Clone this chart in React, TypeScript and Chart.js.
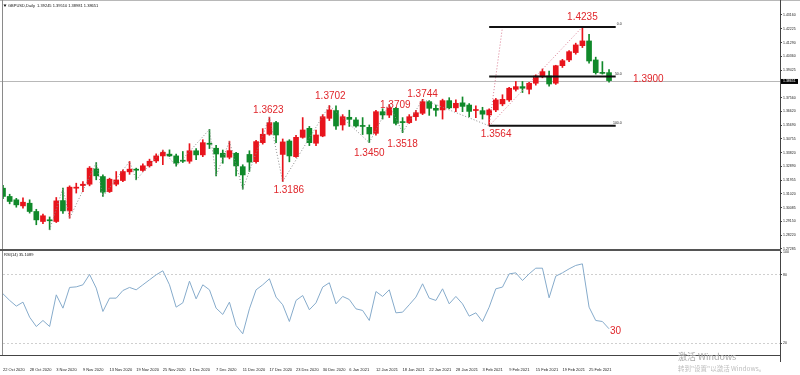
import React, { useEffect, useRef } from 'react';
import { Chart, registerables } from 'chart.js';

Chart.register(...registerables);

// ---------------- data ----------------
const dates = ['22 Oct 2020','23 Oct 2020','26 Oct 2020','27 Oct 2020','28 Oct 2020','29 Oct 2020','30 Oct 2020',
  '2 Nov 2020','3 Nov 2020','4 Nov 2020','5 Nov 2020','6 Nov 2020','9 Nov 2020','10 Nov 2020','11 Nov 2020','12 Nov 2020','13 Nov 2020',
  '16 Nov 2020','17 Nov 2020','18 Nov 2020','19 Nov 2020','20 Nov 2020','23 Nov 2020','24 Nov 2020','25 Nov 2020','26 Nov 2020','27 Nov 2020','30 Nov 2020',
  '1 Dec 2020','2 Dec 2020','3 Dec 2020','4 Dec 2020','7 Dec 2020','8 Dec 2020','9 Dec 2020','10 Dec 2020','11 Dec 2020','14 Dec 2020','15 Dec 2020',
  '16 Dec 2020','17 Dec 2020','18 Dec 2020','21 Dec 2020','22 Dec 2020','23 Dec 2020','24 Dec 2020','28 Dec 2020','29 Dec 2020','30 Dec 2020','31 Dec 2020',
  '4 Jan 2021','5 Jan 2021','6 Jan 2021','7 Jan 2021','8 Jan 2021','11 Jan 2021','12 Jan 2021','13 Jan 2021','14 Jan 2021','15 Jan 2021',
  '18 Jan 2021','19 Jan 2021','20 Jan 2021','21 Jan 2021','22 Jan 2021','25 Jan 2021','26 Jan 2021','27 Jan 2021','28 Jan 2021','29 Jan 2021',
  '1 Feb 2021','2 Feb 2021','3 Feb 2021','4 Feb 2021','5 Feb 2021','8 Feb 2021','9 Feb 2021','10 Feb 2021','11 Feb 2021','12 Feb 2021',
  '15 Feb 2021','16 Feb 2021','17 Feb 2021','18 Feb 2021','19 Feb 2021','22 Feb 2021','23 Feb 2021','24 Feb 2021','25 Feb 2021','26 Feb 2021',
  '1 Mar 2021','2 Mar 2021'];

const opens = [1.3141,1.3085,1.3062,1.3021,1.3039,1.2983,1.2915,1.2924,1.2915,1.3057,1.2987,1.3141,1.3159,1.3168,1.3272,1.3220,1.3118,
  1.3168,1.3193,1.3252,1.3270,1.3261,1.3293,1.3326,1.3360,1.3372,1.3360,1.3329,1.3324,1.3395,1.3367,1.3446,1.3412,1.3378,1.3351,1.3378,
  1.3287,1.3370,1.3321,1.3450,1.3507,1.3586,1.3370,1.3461,1.3355,1.3486,1.3547,1.3446,1.3495,1.3615,1.3668,1.3570,1.3622,1.3604,1.3565,
  1.3554,1.3513,1.3660,1.3637,1.3683,1.3592,1.3586,1.3626,1.3649,1.3728,1.3683,1.3672,1.3735,1.3686,1.3720,1.3705,1.3668,1.3667,1.3638,
  1.3672,1.3713,1.3740,1.3812,1.3830,1.3812,1.3853,1.3902,1.3902,1.3853,1.3972,1.4011,1.4061,1.4108,1.4140,1.4011,1.3925,1.3925];
const highs = [1.3160,1.3100,1.3072,1.3075,1.3062,1.2998,1.2965,1.2946,1.3078,1.3141,1.3157,1.3175,1.3186,1.3288,1.3315,1.3232,1.3209,
  1.3254,1.3265,1.3322,1.3277,1.3306,1.3338,1.3374,1.3400,1.3401,1.3372,1.3390,1.3443,1.3410,1.3470,1.3540,1.3432,1.3400,1.3460,1.3385,
  1.3300,1.3395,1.3465,1.3545,1.3623,1.3595,1.3475,1.3470,1.3500,1.3620,1.3560,1.3535,1.3640,1.3702,1.3700,1.3640,1.3670,1.3620,1.3620,
  1.3570,1.3670,1.3680,1.3709,1.3690,1.3620,1.3640,1.3670,1.3744,1.3735,1.3705,1.3745,1.3755,1.3740,1.3760,1.3715,1.3700,1.3690,1.3680,
  1.3750,1.3775,1.3825,1.3865,1.3865,1.3860,1.3910,1.3950,1.3935,1.3975,1.4015,1.4075,1.4125,1.4235,1.4185,1.4030,1.4000,1.3945];
const lows = [1.3070,1.3035,1.3012,1.3005,1.2972,1.2893,1.2900,1.2859,1.2908,1.2970,1.2937,1.3108,1.3118,1.3157,1.3198,1.3085,1.3112,
  1.3157,1.3186,1.3235,1.3198,1.3254,1.3284,1.3315,1.3300,1.3356,1.3290,1.3315,1.3310,1.3335,1.3355,1.3410,1.3225,1.3310,1.3340,1.3225,
  1.3134,1.3255,1.3310,1.3440,1.3500,1.3450,1.3186,1.3320,1.3350,1.3480,1.3430,1.3430,1.3490,1.3600,1.3540,1.3535,1.3560,1.3555,1.3505,
  1.3450,1.3500,1.3610,1.3620,1.3570,1.3518,1.3580,1.3600,1.3640,1.3635,1.3630,1.3610,1.3680,1.3660,1.3660,1.3625,1.3620,1.3610,1.3564,
  1.3660,1.3700,1.3730,1.3800,1.3790,1.3780,1.3840,1.3890,1.3833,1.3845,1.3960,1.4000,1.4050,1.4095,1.3990,1.3915,1.3915,1.3860];
const closes = [1.3085,1.3051,1.3028,1.3046,1.2983,1.2926,1.2954,1.2920,1.3055,1.2987,1.3148,1.3148,1.3168,1.3277,1.3225,1.3114,1.3202,
  1.3197,1.3254,1.3270,1.3263,1.3293,1.3324,1.3360,1.3385,1.3360,1.3311,1.3324,1.3395,1.3367,1.3450,1.3439,1.3373,1.3351,1.3396,1.3292,
  1.3231,1.3318,1.3457,1.3507,1.3586,1.3502,1.3455,1.3360,1.3486,1.3536,1.3450,1.3502,1.3626,1.3672,1.3563,1.3626,1.3608,1.3563,1.3560,
  1.3509,1.3660,1.3638,1.3683,1.3581,1.3586,1.3626,1.3653,1.3728,1.3683,1.3670,1.3735,1.3686,1.3717,1.3696,1.3662,1.3673,1.3643,1.3672,
  1.3740,1.3744,1.3819,1.3830,1.3819,1.3853,1.3902,1.3932,1.3848,1.3972,1.4006,1.4067,1.4113,1.4140,1.4004,1.3925,1.3920,1.3871];

const rsiValues = [63.3,57.5,52.5,56.0,42.8,34.6,39.9,34.6,62.4,50.7,68.9,69.4,71.2,80.3,68.3,47.8,59.5,59.5,66.2,68.9,66.8,71.2,
  75.6,80.0,83.5,71.2,51.6,55.4,74.4,58.9,71.2,66.8,50.7,45.2,56.0,35.5,28.2,50.1,66.8,71.2,76.5,60.4,53.7,39.0,57.5,
  61.8,49.3,55.4,69.2,73.0,54.5,61.0,58.3,50.1,48.7,39.9,65.3,61.0,66.8,46.6,47.2,53.7,60.4,72.1,59.5,57.5,67.7,54.5,61.0,54.5,
  43.7,46.6,39.0,51.6,67.7,69.2,80.8,81.7,75.0,80.8,85.8,85.8,59.8,78.8,81.7,85.2,88.2,89.6,51.6,39.9,39.0,32.6];

const priceTicks = [1.43160,1.42225,1.41290,1.40360,1.39425,1.37560,1.36620,1.35690,1.34755,1.33820,1.32890,1.31955,1.31020,1.30085,1.29150,1.28220,1.27285];
const xTickLabels = ['22 Oct 2020','28 Oct 2020','3 Nov 2020','9 Nov 2020','13 Nov 2020','19 Nov 2020','25 Nov 2020','1 Dec 2020',
  '7 Dec 2020','11 Dec 2020','17 Dec 2020','23 Dec 2020','30 Dec 2020','6 Jan 2021','12 Jan 2021','18 Jan 2021','22 Jan 2021',
  '28 Jan 2021','3 Feb 2021','9 Feb 2021','15 Feb 2021','19 Feb 2021','25 Feb 2021'];
const rsiTicks = [100, 80, 20];

// zigzag swing points (bar index, price)
const zigzagIdx = [7,9,10,14,15,19,20,24,26,31,32,34,36,40,42,49,55,58,60,63,73];
const zigzagVal = [1.2859,1.3141,1.2937,1.3315,1.3085,1.3322,1.3198,1.3400,1.3290,1.3540,1.3225,1.3460,1.3134,1.3623,1.3186,1.3702,1.3450,1.3709,1.3518,1.3744,1.3564];
// fibonacci tool
const fibIdx = [73, 92];
const fibLevels = [1.4235, 1.38995, 1.3564];
const fibLevelLabels = ['0.0', '50.0', '100.0'];
const fibTrendIdx = [73, 87];
const fibTrendVal = [1.3564, 1.4235];
const fibAnchorIdx = [73, 75];
const fibAnchorVal = [1.3564, 1.4235];

// swing annotations
const swingLabels = ['1.4235','1.3900','1.3564','1.3623','1.3186','1.3702','1.3450','1.3709','1.3518','1.3744'];
const swingIdx = [87, 91, 73, 40, 42, 49, 55, 58, 60, 63];
const rsiNote = '30';
const rsiNoteIdx = 91;

const currentPrice = 1.38651;
const titleText = 'GBPUSD,Daily  1.39245 1.39510 1.38981 1.38651';
const rsiTitle = 'RSI(14) 35.1089';

// ---------------- styles ----------------
const UP = '#e8141c';
const DOWN = '#10892a';
const NOTE = '#e0262b';
const FONT = '"Liberation Sans", Arial, sans-serif';
const X_MIN = 0;
const X_MAX = 116.67;
const AXIS_W = 20;
// pixel offsets for swing labels: [dx, dy, align]
const NOTE_OFFSETS: any[] = [
  [0, -9.5, 'center'], [24, 2.5, 'left'], [7, 8, 'center'], [-1, -6.5, 'center'], [6, 9, 'center'],
  [1, -9.5, 'center'], [0, 11, 'center'], [6, 0.5, 'center'], [0, 12, 'center'], [0, -5, 'center'],
];

export default function App() {
  const mainRef = useRef<HTMLCanvasElement>(null);
  const rsiRef = useRef<HTMLCanvasElement>(null);

  useEffect(() => {
    const colors = closes.map((c, i) => (c >= opens[i] ? UP : DOWN));

    const mainOverlay = {
      id: 'mainOverlay',
      beforeDatasetsDraw(chart: any) {
        const { ctx, chartArea, scales } = chart;
        const py = Math.round(scales.y.getPixelForValue(currentPrice)) + 0.5;
        ctx.save();
        ctx.strokeStyle = '#b8b8b8';
        ctx.lineWidth = 1;
        ctx.beginPath();
        ctx.moveTo(0, py);
        ctx.lineTo(chartArea.right, py);
        ctx.stroke();
        ctx.restore();
      },
      afterDraw(chart: any) {
        const { ctx, chartArea, scales } = chart;
        const x = scales.x, y = scales.y;
        ctx.save();
        // swing notes
        ctx.font = `10px ${FONT}`;
        ctx.fillStyle = NOTE;
        ctx.textBaseline = 'middle';
        swingLabels.forEach((t, k) => {
          const [dx, dy, align] = NOTE_OFFSETS[k];
          ctx.textAlign = align;
          ctx.fillText(t, x.getPixelForValue(swingIdx[k]) + dx, y.getPixelForValue(parseFloat(t)) + dy);
        });
        // fib labels
        ctx.font = `3.5px ${FONT}`;
        ctx.fillStyle = '#222';
        ctx.textAlign = 'right';
        ctx.textBaseline = 'bottom';
        fibLevels.forEach((v, k) => {
          ctx.fillText(fibLevelLabels[k], x.getPixelForValue(fibIdx[1]) + 6, y.getPixelForValue(v) - 1);
        });
        // current price tag
        const py = y.getPixelForValue(currentPrice);
        ctx.fillStyle = '#000';
        ctx.fillRect(chartArea.right + 1, py - 2.5, 17, 5);
        ctx.fillStyle = '#fff';
        ctx.textAlign = 'left';
        ctx.textBaseline = 'middle';
        ctx.fillText(currentPrice.toFixed(5), chartArea.right + 3, py);
        // title
        ctx.fillStyle = '#111';
        ctx.beginPath();
        ctx.moveTo(3.5, 4.5); ctx.lineTo(6.5, 4.5); ctx.lineTo(5, 7); ctx.closePath();
        ctx.fill();
        ctx.font = `4px ${FONT}`;
        ctx.fillText(titleText, 8, 6);
        ctx.restore();
      },
    };

    const main = new Chart(mainRef.current as HTMLCanvasElement, {
      type: 'bar',
      data: {
        datasets: [
          ...fibLevels.map((v) => ({
            type: 'line',
            data: fibIdx.map((i) => ({ x: i, y: v })),
            borderColor: '#111',
            borderWidth: 2,
            pointRadius: 0,
            order: 0,
          })),
          {
            type: 'line',
            data: zigzagIdx.map((i, k) => ({ x: i, y: zigzagVal[k] })),
            borderColor: '#8c8c8c',
            borderWidth: 1,
            borderDash: [1, 2],
            pointRadius: 0,
            order: 0,
          },
          {
            type: 'line',
            data: fibTrendIdx.map((i, k) => ({ x: i, y: fibTrendVal[k] })),
            borderColor: '#d97a90',
            borderWidth: 1,
            borderDash: [1, 2],
            pointRadius: 0,
            order: 0,
          },
          {
            type: 'line',
            data: fibAnchorIdx.map((i, k) => ({ x: i, y: fibAnchorVal[k] })),
            borderColor: '#d97a90',
            borderWidth: 1,
            borderDash: [1, 2],
            pointRadius: 0,
            order: 0,
          },
          {
            type: 'bar',
            data: opens.map((o, i) => ({ x: i, y: [o, closes[i]] })),
            backgroundColor: colors,
            barThickness: 5,
            minBarLength: 1,
            grouped: false,
            borderSkipped: false,
            order: 1,
          },
          {
            type: 'bar',
            data: highs.map((h, i) => ({ x: i, y: [lows[i], h] })),
            backgroundColor: colors,
            barThickness: 1,
            grouped: false,
            order: 2,
          },
        ] as any,
      },
      options: {
        responsive: false,
        animation: false,
        devicePixelRatio: 1,
        layout: { padding: { left: 3, top: 5, right: 0, bottom: 6 } },
        plugins: { legend: { display: false }, tooltip: { enabled: false } },
        scales: {
          x: { type: 'linear', min: X_MIN, max: X_MAX, display: false, offset: false },
          y: {
            type: 'linear',
            position: 'right',
            min: 1.27217,
            max: 1.43838,
            afterFit: (s: any) => { s.width = AXIS_W; },
            afterBuildTicks: (s: any) => { s.ticks = priceTicks.map((v) => ({ value: v })); },
            ticks: {
              autoSkip: false,
              callback: (v: any) => Number(v).toFixed(5),
              font: { size: 3.5, family: FONT },
              color: '#222',
              padding: 1,
            },
            grid: { drawOnChartArea: false, tickLength: 2, color: '#444' },
            border: { display: false },
          },
        },
      } as any,
      plugins: [mainOverlay],
    });

    const rsiOverlay = {
      id: 'rsiOverlay',
      afterDraw(chart: any) {
        const { ctx, scales } = chart;
        ctx.save();
        ctx.font = `4px ${FONT}`;
        ctx.fillStyle = '#111';
        ctx.textAlign = 'left';
        ctx.textBaseline = 'middle';
        ctx.fillText(rsiTitle, 4, 8.5);
        ctx.font = `10px ${FONT}`;
        ctx.fillStyle = NOTE;
        ctx.fillText(rsiNote, scales.x.getPixelForValue(rsiNoteIdx) + 1, scales.y.getPixelForValue(rsiValues[rsiNoteIdx]) + 2.7);
        ctx.restore();
      },
    };

    const rsi = new Chart(rsiRef.current as HTMLCanvasElement, {
      type: 'line',
      data: {
        datasets: [
          {
            data: rsiValues.map((v, i) => ({ x: i, y: v })),
            borderColor: '#86abcb',
            borderWidth: 1,
            pointRadius: 0,
            tension: 0,
          },
        ],
      },
      options: {
        responsive: false,
        animation: false,
        devicePixelRatio: 1,
        layout: { padding: { left: 3, top: 6, right: 0, bottom: 0 } },
        plugins: { legend: { display: false }, tooltip: { enabled: false } },
        scales: {
          x: {
            type: 'linear',
            min: X_MIN,
            max: X_MAX,
            offset: false,
            afterFit: (s: any) => { s.height = 20; },
            afterBuildTicks: (s: any) => { s.ticks = xTickLabels.map((l) => ({ value: dates.indexOf(l) })); },
            ticks: {
              autoSkip: false,
              maxRotation: 0,
              minRotation: 0,
              align: 'start',
              padding: 2,
              callback: (v: any) => dates[v] ?? '',
              font: { size: 4, family: FONT },
              color: '#222',
            },
            grid: { drawOnChartArea: false, tickLength: 10, tickColor: 'rgba(0,0,0,0)' },
            border: { display: false },
          },
          y: {
            type: 'linear',
            position: 'right',
            min: 9.6,
            max: 100,
            afterFit: (s: any) => { s.width = AXIS_W; },
            afterBuildTicks: (s: any) => { s.ticks = rsiTicks.map((v) => ({ value: v })); },
            ticks: {
              autoSkip: false,
              font: { size: 3.5, family: FONT },
              color: '#222',
              padding: 1,
            },
            grid: {
              drawOnChartArea: true,
              tickLength: 2,
              color: (c: any) => (c.tick && c.tick.value === 100 ? 'rgba(0,0,0,0)' : '#cfcfcf'),
              tickColor: '#444',
            },
            border: { display: false, dash: [2, 2] },
          },
        },
      } as any,
      plugins: [rsiOverlay],
    });

    return () => {
      main.destroy();
      rsi.destroy();
    };
  }, []);

  const line = (s: any) => <div style={{ position: 'absolute', ...s }} />;

  return (
    <div style={{ position: 'fixed', left: 0, top: 0, width: 800, height: 375, background: '#fff', overflow: 'hidden' }}>
      <canvas ref={mainRef} width={800} height={256} style={{ position: 'absolute', left: 0, top: 0 }} />
      <canvas ref={rsiRef} width={800} height={129} style={{ position: 'absolute', left: 0, top: 246 }} />
      {line({ left: 0, top: 0, width: 800, height: 1, background: '#b8b8b8' })}
      {line({ left: 2, top: 0, width: 1, height: 356, background: '#8a8a8a' })}
      {line({ left: 780, top: 0, width: 1, height: 362, background: '#444' })}
      {line({ left: 0, top: 249, width: 781, height: 2, background: '#555' })}
      {line({ left: 0, top: 355, width: 781, height: 1, background: '#444' })}
      <div style={{ position: 'absolute', left: 678, top: 352, font: '9px "Noto Sans CJK SC"', color: '#a8a8a8', whiteSpace: 'nowrap', lineHeight: '10px' }}>激活 Windows</div>
      <div style={{ position: 'absolute', left: 678, top: 364, font: '6.5px "Noto Sans CJK SC"', color: '#bdbdbd', whiteSpace: 'nowrap', lineHeight: '8px' }}>转到"设置"以激活 Windows。</div>
    </div>
  );
}
